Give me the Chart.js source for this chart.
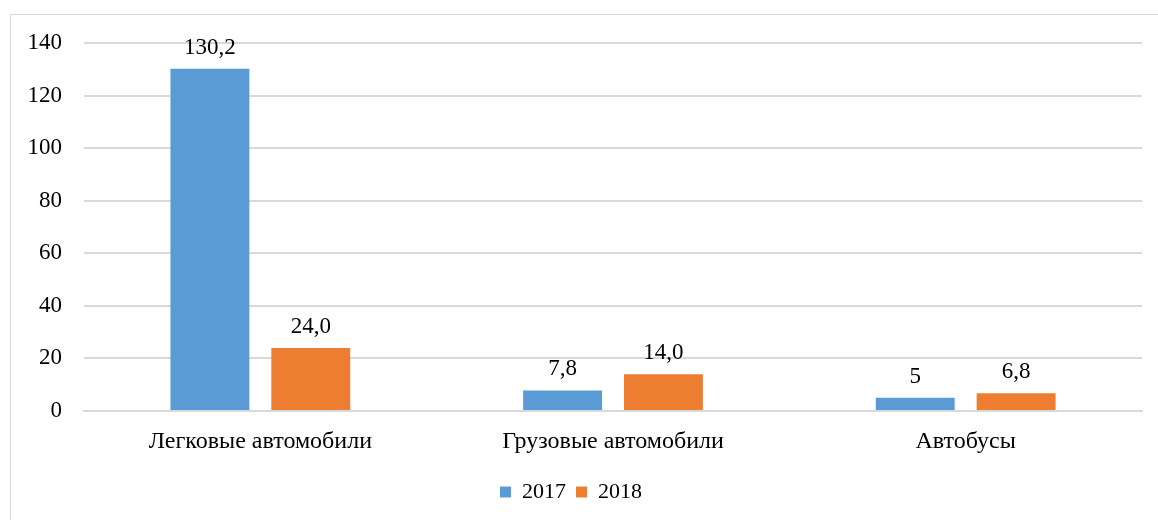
<!DOCTYPE html>
<html>
<head>
<meta charset="utf-8">
<script src="https://cdn.jsdelivr.net/npm/chart.js@4"></script>
<style>
  html, body { margin: 0; padding: 0; background: #fff; overflow: hidden; }
  #wrap { position: relative; width: 1158px; height: 520px; }
  #frame {
    position: absolute; left: 10px; top: 14px; width: 1170px; height: 530px;
    border: 1px solid #d9d9d9; box-sizing: border-box;
  }
  canvas { position: absolute; left: 0; top: 0; }
</style>
</head>
<body>
<div id="wrap">
  <div id="frame"></div>
  <canvas id="chart" width="1158" height="520"></canvas>
</div>
<script>
// categories and values
const categories = ['Легковые автомобили', 'Грузовые автомобили', 'Автобусы'];
const values2017 = [130.2, 7.8, 5];
const values2018 = [24.0, 14.0, 6.8];
// decimals shown in the value labels above bars
const decimals2017 = [1, 1, 0];
const decimals2018 = [1, 1, 1];
const yTicks = [0, 20, 40, 60, 80, 100, 120, 140];

const FONT = '"Liberation Serif", "Times New Roman", serif';
const blue = '#5b9bd5';
const orange = '#ed7d31';
const gridColor = '#d9d9d9';

function fmt(v, d) {
    return v.toFixed(d).replace('.', ',');
}

// draws the value above every bar
const valueLabels = {
    id: 'valueLabels',
    afterDatasetsDraw(chart) {
        const ctx = chart.ctx;
        ctx.save();
        ctx.font = '23px ' + FONT;
        ctx.fillStyle = '#000';
        ctx.textAlign = 'center';
        ctx.textBaseline = 'alphabetic';
        chart.data.datasets.forEach((ds, i) => {
            const meta = chart.getDatasetMeta(i);
            meta.data.forEach((bar, j) => {
                ctx.fillText(fmt(ds.data[j], ds.decimals[j]), bar.x, bar.y - 15);
            });
        });
        ctx.restore();
    }
};

new Chart(document.getElementById('chart'), {
    type: 'bar',
    data: {
        labels: categories,
        datasets: [
            { label: '2017', data: values2017, decimals: decimals2017, backgroundColor: blue },
            { label: '2018', data: values2018, decimals: decimals2018, backgroundColor: orange }
        ]
    },
    options: {
        responsive: false,
        animation: false,
        layout: { padding: { top: 43, right: 16, bottom: 7, left: 0 } },
        datasets: {
            bar: { categoryPercentage: 0.572, barPercentage: 0.782 }
        },
        scales: {
            x: {
                grid: { display: false },
                border: { color: gridColor, width: 2 },
                ticks: { color: '#000', font: { family: FONT, size: 24 }, padding: 8 },
                afterFit(scale) { scale.height = 60; }
            },
            y: {
                min: 0,
                max: 140,
                afterBuildTicks(scale) { scale.ticks = yTicks.map(v => ({ value: v })); },
                grid: { color: gridColor, lineWidth: 2, drawTicks: false },
                border: { display: false },
                ticks: { color: '#000', font: { family: FONT, size: 23 }, padding: 22 },
                afterFit(scale) { scale.width = 84; }
            }
        },
        plugins: {
            legend: {
                position: 'bottom',
                labels: {
                    boxWidth: 11,
                    boxHeight: 11,
                    color: '#000',
                    font: { family: FONT, size: 22 },
                    padding: 10
                }
            },
            tooltip: { enabled: false }
        }
    },
    plugins: [valueLabels]
});
</script>
</body>
</html>
